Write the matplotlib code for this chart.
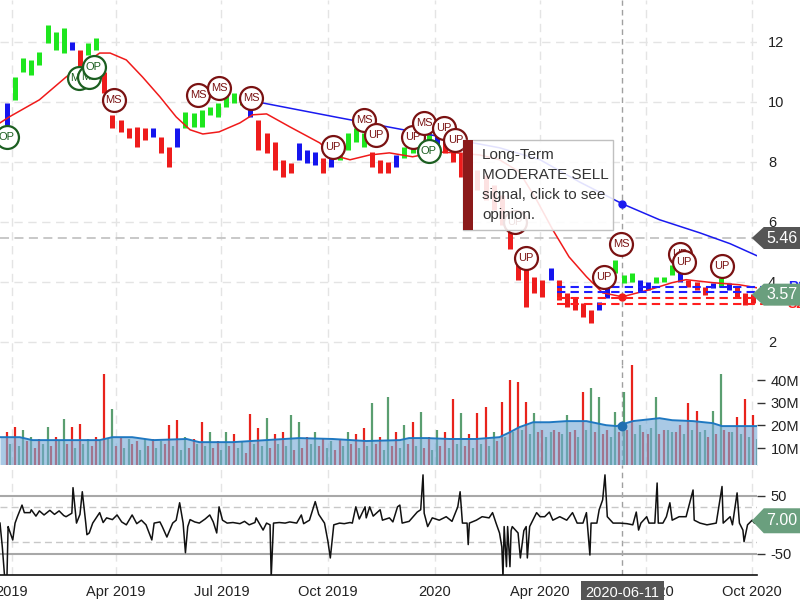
import numpy as np
import pandas as pd
import matplotlib
matplotlib.use('Agg')
import matplotlib.pyplot as plt
from matplotlib.patches import Rectangle, Polygon

plt.rcParams['font.family'] = ['Liberation Sans', 'DejaVu Sans']
plt.rcParams['axes.unicode_minus'] = False

# ---- weekly price ranges (one bar per week, friday) ----
week_start = '2018-12-28'
price_hi = [9.97, 10.83, 11.47, 11.4, 11.67, 12.57, 12.33, 12.47, 12.0, 11.73,
            11.97, 12.13, 11.0, 9.57, 9.4, 9.13, 9.17, 9.13, 9.13, 8.83,
            8.5, 9.13, 9.67, 9.63, 9.73, 9.83, 9.97, 10.23, 10.3, 10.13,
            9.83, 9.4, 8.97, 8.67, 8.07, 7.97, 8.63, 8.4, 8.33, 8.13,
            8.17, 8.63, 8.97, 9.13, 8.97, 8.33, 8.07, 8.0, 8.23, 8.5,
            8.73, 8.97, 9.13, 8.9, 8.73, 8.5, 8.3, 8.07, 7.73, 7.57,
            7.23, 6.9, 6.0, 4.97, 4.5, 4.17, 4.07, 4.47, 4.07, 3.63,
            3.47, 3.3, 3.07, 3.33, 3.83, 4.73, 4.23, 4.3, 4.07, 4.0,
            4.17, 4.17, 4.57, 4.33, 4.07, 4.0, 3.83, 3.97, 4.13, 3.97,
            3.83, 3.63, 3.6]
price_lo = [9.23, 10.07, 11.0, 10.9, 11.23, 11.97, 11.73, 11.63, 11.73, 11.17,
            11.57, 11.73, 10.3, 9.13, 9.0, 8.8, 8.5, 8.73, 8.83, 8.3,
            7.83, 8.5, 9.13, 9.17, 9.17, 9.57, 9.5, 9.83, 9.97, 9.9,
            9.5, 8.4, 8.3, 7.73, 7.5, 7.63, 8.07, 7.97, 7.9, 7.63,
            7.83, 8.07, 8.4, 8.67, 8.5, 7.83, 7.63, 7.63, 7.83, 8.13,
            8.3, 8.5, 8.73, 8.5, 8.3, 8.0, 7.5, 7.4, 7.07, 6.73,
            6.4, 5.9, 5.1, 4.07, 3.17, 3.63, 3.5, 4.07, 3.4, 3.17,
            3.07, 2.83, 2.63, 3.07, 3.47, 4.3, 3.97, 4.0, 3.67, 3.73,
            3.97, 4.0, 4.23, 4.0, 3.83, 3.73, 3.57, 3.8, 3.83, 3.73,
            3.5, 3.23, 3.3]
price_col = ("bgggggggbr" "ggrrrrrrbr" "rbgggggggg" "brrrrrbbbr" "bggggrrrbg"
             "gggbrrrrrr" "rrrrrrrbrr" "rrrbbgggbb" "gggbrrrbgb" "rrr")

# moving average (red) and long-term trend (blue)
ma_dates = ['2018-12-22', '2018-12-30', '2019-01-25', '2019-02-17', '2019-03-03', '2019-03-18',
            '2019-03-27', '2019-04-10', '2019-04-24', '2019-05-09', '2019-05-23', '2019-06-04',
            '2019-06-15', '2019-06-29', '2019-07-17', '2019-07-28', '2019-08-09', '2019-08-29',
            '2019-09-24', '2019-10-05', '2019-10-20', '2019-11-06', '2019-11-23', '2019-12-13',
            '2020-01-03', '2020-01-20', '2020-02-09', '2020-02-26', '2020-03-14', '2020-03-29',
            '2020-04-12', '2020-04-26', '2020-05-11', '2020-05-25', '2020-06-11', '2020-07-04',
            '2020-07-24', '2020-08-05', '2020-08-28', '2020-09-20', '2020-10-05']
ma_vals = [9.3, 9.5, 10.07, 10.83, 11.23, 11.63, 11.63, 11.4, 10.83, 10.17, 9.5, 9.07,
           8.93, 9.0, 9.3, 9.57, 9.6, 9.17, 8.63, 8.23, 8.07, 8.23, 8.3, 8.17,
           8.33, 8.3, 8.23, 8.07, 7.67, 6.73, 5.73, 4.83, 4.17, 3.63, 3.5, 3.73,
           3.97, 4.07, 3.97, 3.9, 3.8]
trend_dates = ['2019-08-05', '2019-10-11', '2019-12-19', '2020-02-26', '2020-04-01', '2020-05-05',
               '2020-06-11', '2020-07-13', '2020-08-17', '2020-09-12', '2020-10-05']
trend_vals = [9.97, 9.47, 8.97, 8.47, 8.07, 7.33, 6.6, 6.07, 5.63, 5.27, 4.87]

# signal markers
sig_dates = ['2018-12-28', '2019-02-28', '2019-03-09', '2019-03-13', '2019-03-30', '2019-06-11',
             '2019-06-29', '2019-07-27', '2019-10-05', '2019-11-01', '2019-11-11', '2019-12-13',
             '2019-12-23', '2019-12-27', '2020-01-09', '2020-01-19', '2020-03-10', '2020-03-20',
             '2020-05-26', '2020-06-10', '2020-07-31', '2020-08-03', '2020-09-05']
sig_vals = [8.83, 10.8, 10.83, 11.17, 10.07, 10.23, 10.47, 10.13, 8.5, 9.4, 8.9, 8.83,
            9.3, 8.37, 9.13, 8.73, 6.0, 4.8, 4.17, 5.27, 4.93, 4.67, 4.53]
sig_text = ['OP', 'MS', 'MS', 'OP', 'MS', 'MS', 'MS', 'MS', 'UP', 'MS', 'UP', 'UP',
            'MS', 'OP', 'UP', 'UP', 'UP', 'UP', 'UP', 'MS', 'UP', 'UP', 'UP']
sig_kind = "ggggrrrrrrrrrgrrrrrrrrr"

# support / resistance
levels = [3.83, 3.67, 3.47, 3.27]
level_names = ['R2', 'R1', 'S1', 'S2']
level_start = '2020-04-16'
last_price = 3.57
ref_price = 5.46
cross_date = '2020-06-11'

# ---- volume (millions), one peak bar and one base bar per week ----
vol_peak = [17, 19.2, 18, 15, 14, 19.2, 15, 22.8, 19.2, 20.6,
            14, 15, 42.6, 27.2, 15, 14, 13, 14, 14, 13,
            20, 22.3, 15, 14, 21.5, 17, 13, 17, 16, 13,
            25, 19, 23.2, 16, 17, 24.5, 21.5, 15, 17, 14,
            13, 14, 17, 16, 18.8, 29.8, 15, 32.5, 17, 20,
            21.5, 25.9, 15, 18, 17, 31.6, 25.4, 16, 25.4, 28,
            17, 30.3, 40, 39, 30.3, 25.4, 18, 17, 17, 24.5,
            18, 34.7, 36.4, 32.5, 18, 25.9, 34.7, 46.6, 20, 16,
            32.5, 18, 17, 20, 29.8, 26.3, 18, 26.3, 42.6, 17,
            23.7, 31.6, 24.5]
vol_peak_col = ("rrggrgrgrr" "grrgrgrgrg" "rrgrrgrgrg" "rrgrrggrgr" "grgrrgrgrg"
                "rgrgrrgrrr" "grrrrgrgrg" "rrggrggrgr" "grgrrrgggr" "rrr")
vol_base = [12, 11, 13, 10, 12, 11, 13, 12, 10, 12, 11, 13, 14,
            11, 10, 12, 9, 11, 10, 12, 11, 9, 10, 12, 11, 10,
            9, 11, 10, 8, 12, 11, 10, 12, 11, 9, 10, 12, 11,
            10, 9, 11, 12, 10, 11, 12, 9, 11, 10, 12, 11, 10,
            9, 11, 10, 12, 11, 10, 12, 11, 13, 15, 17, 18, 16,
            17, 15, 18, 16, 17, 15, 18, 17, 16, 15, 17, 18, 16,
            17, 19, 16, 18, 17, 16, 18, 17, 15, 16, 18, 17, 16, 15, 14]
vma_dates = ['2018-12-22', '2019-01-08', '2019-01-19', '2019-03-18', '2019-03-29', '2019-04-15',
             '2019-05-03', '2019-06-01', '2019-06-12', '2019-07-11', '2019-09-06', '2019-10-05',
             '2019-11-03', '2019-12-02', '2019-12-10', '2019-12-25', '2020-01-14', '2020-02-06',
             '2020-02-26', '2020-03-06', '2020-03-14', '2020-03-26', '2020-04-09', '2020-04-24',
             '2020-05-11', '2020-05-28', '2020-06-06', '2020-06-20', '2020-07-13', '2020-07-24',
             '2020-08-11', '2020-08-28', '2020-09-05', '2020-09-20', '2020-10-05']
vma_vals = [14.8, 14.8, 13.5, 13.5, 14.8, 14.8, 13.5, 14, 12.6, 12.6, 14.4, 14,
            13.1, 13.5, 14.4, 14.4, 14, 14, 14.8, 17, 19.2, 21.4, 21.4, 21.9,
            21.9, 20.1, 19.7, 21.9, 23.2, 22.3, 21.9, 21, 19.7, 19.7, 19.7]

# ---- oscillator (day number from 2019-01-01, value) ----
osc_day = [-10, -8, -6, -4, -3, -2, 1, 3, 5, 9, 11, 16, 17, 21, 24, 28, 33, 37, 41, 45,
           47, 52, 53, 56, 59, 61, 64, 65, 67, 70, 74, 76, 79, 82, 87, 91, 95, 99, 104, 108,
           112, 116, 121, 123, 128, 130, 134, 139, 142, 145, 148, 150, 152, 154, 158, 162, 167, 171, 174, 177,
           179, 182, 186, 191, 197, 201, 205, 210, 211, 217, 220, 223, 224, 226, 231, 236, 240, 246, 250, 252,
           257, 262, 265, 267, 270, 273, 275, 278, 283, 287, 292, 294, 297, 300, 305, 306, 309, 312, 318, 320,
           326, 329, 333, 335, 337, 343, 350, 353, 355, 356, 359, 363, 369, 375, 380, 385, 387, 389, 393, 394,
           395, 401, 406, 412, 415, 418, 421, 423, 424, 425, 427, 428, 430, 431, 432, 437, 439, 442, 444, 445,
           447, 450, 453, 456, 460, 464, 467, 473, 479, 484, 488, 493, 496, 499, 500, 505, 507, 510, 512, 514,
           519, 525, 531, 536, 539, 541, 543, 548, 550, 555, 557, 558, 562, 565, 568, 570, 576, 582, 588, 589,
           594, 600, 608, 613, 614, 620, 622, 626, 628, 631, 632, 635, 639, 641, 643]
osc_val = [3, -38, -90, -90, -3, -9, -26, 3, 14, 34, 21, 21, 26, 15, 24, 17, 25, 18, 24, 16,
           14, 20, 64, 3, 18, 57, 3, -17, -14, 3, 15, 21, 4, 12, 9, 17, 5, 0, 17, 2,
           8, 0, -26, 3, 5, -3, -21, 3, 8, 38, 3, -48, -3, 9, 5, 3, 10, 17, 5, -14,
           31, 8, 3, 4, 2, 6, 0, 4, 12, -9, 3, 0, -90, 3, 4, 3, 5, 3, 17, 2,
           8, 40, 18, 12, 3, -29, -57, 0, 3, 2, 4, 3, 31, 10, 31, 12, 31, 15, 26, 8,
           12, 5, 31, 34, 3, 6, 22, 26, 86, 20, -3, 12, 8, 14, 6, 31, 57, 3, 3, -34,
           3, 8, 14, 12, 21, 3, -14, -38, -90, -3, -72, -3, -72, -10, -3, -14, -57, -10, -3, -57,
           -3, 9, 21, 14, 14, 22, 8, 14, 8, 21, 3, 3, 21, -52, 3, 3, 26, 43, 86, 14,
           3, 3, 2, 0, 22, -9, 3, 14, 3, 3, 72, 3, 3, 14, 38, 8, 14, 14, 60, 8,
           3, 0, 3, 66, 3, 14, 0, 55, 3, -9, -29, 0, 8, 3, 7]
osc_last = 7.00

# ---- derived series ----
weeks = pd.date_range(week_start, periods=len(price_hi), freq='7D')
bar_colors = {'g': '#1ee61e', 'r': '#ee1c1c', 'b': '#1515ee'}
vol_colors = {'g': '#5a9e70', 'r': '#e8231c'}
osc_dates = pd.Timestamp('2019-01-01') + pd.to_timedelta(osc_day, unit='D')
xmin, xmax = pd.Timestamp('2018-12-22'), pd.Timestamp('2020-10-05')
month_ticks = pd.to_datetime(['2019-01-01', '2019-04-01', '2019-07-01', '2019-10-01',
                              '2020-01-01', '2020-04-01', '2020-07-01', '2020-10-01'])
month_labels = ['2019', 'Apr 2019', 'Jul 2019', 'Oct 2019', '2020', 'Apr 2020', 'Jul 2020', 'Oct 2020']

fig = plt.figure(figsize=(8, 6), dpi=100)
ax_p = fig.add_axes([0, 0.392, 0.946, 0.608])
ax_v = fig.add_axes([0, 0.225, 0.946, 0.167], sharex=ax_p)
ax_o = fig.add_axes([0, 0.042, 0.946, 0.183], sharex=ax_p)

grid_kw = dict(color='#e4e4e4', lw=1, ls=(0, (6, 4)))
for ax in (ax_p, ax_v, ax_o):
    for s in ax.spines.values():
        s.set_visible(False)
    ax.yaxis.tick_right()
    ax.set_xticks(month_ticks)
    ax.grid(True, axis='x', **grid_kw)
    ax.set_axisbelow(True)
    ax.axvline(pd.Timestamp(cross_date), color='#a0a0a0', lw=1, ls=(0, (4, 3)), zorder=1)
    ax.tick_params(axis='x', length=0, labelbottom=False)
ax_p.set_xlim(xmin, xmax)

# ---- price panel ----
ax_p.set_ylim(1.23, 13.4)
ax_p.set_yticks([2, 4, 6, 8, 10, 12])
ax_p.grid(True, axis='y', **grid_kw)
ax_p.tick_params(axis='y', length=0, pad=8, labelsize=10.5, labelcolor='#222')
ax_p.axhline(ref_price, color='#c4c4c4', lw=1.3, ls=(0, (5, 3)), zorder=1)

ax_p.vlines(weeks, price_lo, price_hi, colors=[bar_colors[c] for c in price_col], lw=3.6, zorder=3)
ax_p.plot(pd.to_datetime(ma_dates), ma_vals, color='#f01a1a', lw=1.1, zorder=4)
ax_p.plot(pd.to_datetime(trend_dates), trend_vals, color='#1a1af0', lw=1.1, zorder=4)
cd = pd.Timestamp(cross_date)
ax_p.plot([cd], [trend_vals[trend_dates.index(cross_date)]], 'o', color='#1a1af0', ms=5, zorder=5)
ax_p.plot([cd], [ma_vals[ma_dates.index(cross_date)]], 'o', color='#f01a1a', ms=5, zorder=5)

lvl_start = pd.Timestamp(level_start)
for val, name in zip(levels, level_names):
    col = '#1e1eff' if name.startswith('R') else '#ff1e1e'
    ax_p.plot([lvl_start, pd.Timestamp('2020-11-03')], [val, val], color=col, lw=1.5,
              ls=(0, (4, 2.5)), clip_on=False, zorder=6)

for i, (d, v, t, k) in enumerate(zip(sig_dates, sig_vals, sig_text, sig_kind)):
    col = '#1b5e20' if k == 'g' else '#7a1212'
    ax_p.plot(pd.Timestamp(d), v, 'o', ms=16.5, mfc='white', mec=col, mew=1.6, zorder=10 + i)
    ax_p.text(pd.Timestamp(d), v, t, color=col, fontsize=8, ha='center', va='center', zorder=10 + i)

# ---- volume panel ----
vol_dates = weeks
ax_v.vlines(vol_dates, 0, vol_peak, colors=[vol_colors[c] for c in vol_peak_col], lw=1.6, zorder=2)
ax_v.vlines(vol_dates + pd.Timedelta(days=3), 0, vol_base,
            colors=[vol_colors['g' if c == 'r' else 'r'] for c in vol_peak_col], lw=1.6, zorder=2)
vd = pd.to_datetime(vma_dates)
ax_v.fill_between(vd, 0, vma_vals, color='#74a9d6', alpha=0.62, lw=0, zorder=3)
ax_v.plot(vd, vma_vals, color='#1f78c1', lw=1.4, zorder=4)
ax_v.plot([cd], [vma_vals[vma_dates.index('2020-06-06')]], 'o', color='#1f6fb0', ms=6, zorder=5)
ax_v.set_ylim(2.5, 46.8)
ax_v.set_yticks([10, 20, 30, 40])
ax_v.set_yticklabels(['10M', '20M', '30M', '40M'])
ax_v.tick_params(axis='y', length=6, width=1, color='#333', pad=4, labelsize=10.5, labelcolor='#222')

# ---- oscillator panel ----
ax_o.set_ylim(-86, 103)
ax_o.axhline(50, color='#a8a8a8', lw=1.5, zorder=1)
ax_o.axhline(-50, color='#a8a8a8', lw=1.5, zorder=1)
ax_o.axhline(30, color='#c8c8c8', lw=1, ls=(0, (5, 3)), zorder=1)
ax_o.axhline(-30, color='#c8c8c8', lw=1, ls=(0, (5, 3)), zorder=1)
ax_o.plot(osc_dates, osc_val, color='#111', lw=1.1, zorder=3)
ax_o.set_yticks([50, -50])
ax_o.tick_params(axis='y', length=6, width=1, color='#333', pad=4, labelsize=10.5, labelcolor='#222')
ax_o.spines['bottom'].set_visible(True)
ax_o.spines['bottom'].set_color('#111')
ax_o.spines['bottom'].set_linewidth(1.2)
ax_o.tick_params(axis='x', length=0, pad=7, labelbottom=True, labelsize=10.5, labelcolor='#222')
ax_o.set_xticklabels(month_labels)

ax_o.annotate(cross_date, xy=(cd, 0), xycoords=('data', 'axes fraction'),
              xytext=(0, -13), textcoords='offset points', ha='center', va='center',
              color='white', fontsize=10.5, zorder=20, annotation_clip=False,
              bbox=dict(boxstyle='square,pad=0.3', fc='#555555', ec='none'))


# ---- value tags on the right ----
def tag(ax, val, txt, fc, h):
    y = ax.transData.transform((0, val))[1]
    tip = ax.get_position().x1 * 800 - 5
    pts = [(tip, y), (tip + 12, y + h / 2), (800, y + h / 2), (800, y - h / 2), (tip + 12, y - h / 2)]
    poly = Polygon([(px / 800, py / 600) for px, py in pts], closed=True, fc=fc, ec='none',
                   transform=fig.transFigure, zorder=5)
    fig.add_artist(poly)
    fig.text((tip + 12 + 800) / 2 / 800, y / 600, txt, color='white', fontsize=11.5,
             ha='center', va='center', zorder=6)


fig.canvas.draw()
for val, name in zip(levels, level_names):
    col = '#1e1eff' if name.startswith('R') else '#ff1e1e'
    y = ax_p.transData.transform((0, val))[1]
    fig.text(788 / 800, y / 600, name, color=col, fontsize=10, fontweight='bold',
             ha='left', va='center', zorder=4)
tag(ax_p, ref_price, f'{ref_price:.2f}', '#555555', 22)
tag(ax_p, last_price, f'{last_price:.2f}', '#6a9f7e', 22)
tag(ax_o, osc_last, f'{osc_last:.2f}', '#6a9f7e', 25)

# ---- opinion box ----
fig.add_artist(Rectangle((463 / 800, 1 - 230 / 600), 150 / 800, 90 / 600, transform=fig.transFigure,
                         fc='white', alpha=0.88, ec='none', zorder=7))
fig.add_artist(Rectangle((463 / 800, 1 - 230 / 600), 150 / 800, 90 / 600, transform=fig.transFigure,
                         fc='none', ec='#c0c0c0', lw=1, zorder=8))
fig.add_artist(Rectangle((463 / 800, 1 - 230 / 600), 10 / 800, 90 / 600, transform=fig.transFigure,
                         fc='#8b1a1a', ec='none', zorder=8))
for i, line in enumerate(['Long-Term', 'MODERATE SELL', 'signal, click to see', 'opinion.']):
    fig.text(482 / 800, 1 - (155 + 20 * i) / 600, line, color='#333', fontsize=11,
             ha='left', va='center', zorder=9)

fig.savefig('out.png', dpi=100)
